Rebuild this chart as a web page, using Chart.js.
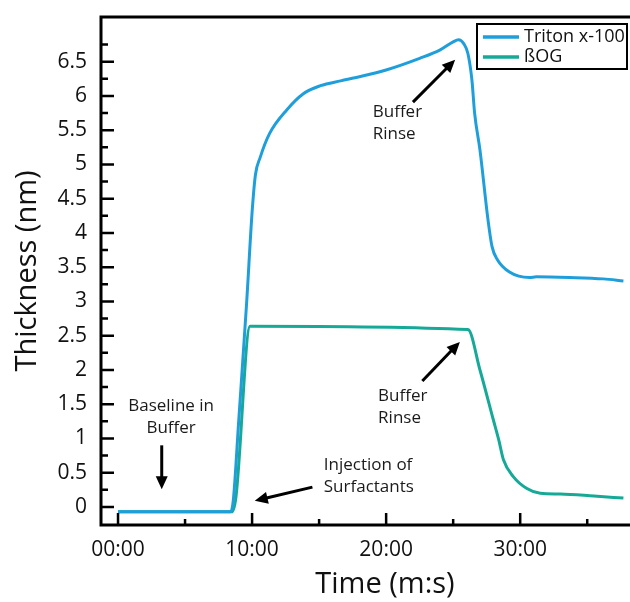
<!DOCTYPE html>
<html>
<head>
<meta charset="utf-8">
<script src="https://cdn.jsdelivr.net/npm/chart.js@4.4.1/dist/chart.umd.min.js"></script>
<style>
  html, body { margin: 0; padding: 0; overflow: hidden; background: #fff; }
  /* the original plot runs past the right edge of the picture, so the canvas is wider than the window */
  #wrap { width: 670px; height: 602px; }
</style>
</head>
<body>
<div id="wrap"><canvas id="c" width="670" height="602"></canvas></div>
<script>
const Chart = window.Chart;
const FONT = '"Open Sans", "Noto Sans", sans-serif';

/* ---------- data (time in minutes, thickness in nm) ---------- */
const tritonTime  = [0, 8.4, 8.6, 9.0, 9.6, 10.0, 10.25, 10.6, 11.3, 12.6, 13.8, 15.1, 16.6, 18.0, 20.0, 22.5,
                     24.0, 25.0, 25.4, 25.8, 26.1, 26.4, 26.6, 27.0, 27.6, 27.9, 28.3, 29.2, 30.7, 31.2, 33.7, 36.2, 37.7];
const tritonThick = [-0.07, -0.07, 0.1, 1.25, 3.0, 4.3, 4.85, 5.1, 5.45, 5.8, 6.03, 6.15, 6.22, 6.28, 6.38, 6.55,
                     6.67, 6.79, 6.82, 6.76, 6.62, 6.23, 5.75, 5.21, 4.19, 3.8, 3.61, 3.43, 3.35, 3.36, 3.35, 3.33, 3.3];

const bogTime  = [0, 8.5, 8.8, 9.85, 26.1, 27.0, 28.0, 28.4, 28.75, 29.5, 30.5, 31.5, 33.0, 35.5, 37.7];
const bogThick = [-0.07, -0.07, 0.15, 2.64, 2.59, 2.0, 1.27, 0.98, 0.69, 0.44, 0.27, 0.2, 0.19, 0.16, 0.13];

const seriesNames = ['Triton x-100', 'ßOG'];

const xTickValues = [0, 10, 20, 30];
const xTickLabels = ['00:00', '10:00', '20:00', '30:00'];
const yTickValues = [0, 0.5, 1, 1.5, 2, 2.5, 3, 3.5, 4, 4.5, 5, 5.5, 6, 6.5];
const yTickLabels = ['0', '0.5', '1', '1.5', '2', '2.5', '3', '3.5', '4', '4.5', '5', '5.5', '6', '6.5'];

/* annotations, anchored in data units */
const notes = [
  { text: ['Baseline in', 'Buffer'],      t: 3.96, v: 1.47, align: 'center', from: [3.26, 0.9],  to: [3.26, 0.26] },
  { text: ['Injection of', 'Surfactants'], t: 15.35, v: 0.61, align: 'left',  from: [14.5, 0.29], to: [10.2, 0.09] },
  { text: ['Buffer', 'Rinse'],             t: 19.0, v: 5.77, align: 'left',   from: [22.0, 5.91], to: [25.15, 6.53] },
  { text: ['Buffer', 'Rinse'],             t: 19.4, v: 1.62, align: 'left',   from: [22.7, 1.84], to: [25.5, 2.41] },
];

const pts = (ts, vs) => ts.map((t, i) => ({ x: t, y: vs[i] }));
const isOn = (v, list) => list.findIndex(a => Math.abs(a - v) < 1e-6);

/* ---------- frame: axes lines, top border, inward ticks ---------- */
const frame = {
  id: 'frame',
  afterDatasetsDraw(chart) {
    const { ctx, chartArea: a, scales: { x, y } } = chart;
    ctx.save();
    ctx.strokeStyle = '#000';
    ctx.lineWidth = 3;
    ctx.beginPath();
    ctx.moveTo(a.right, a.top); ctx.lineTo(a.left, a.top);
    ctx.lineTo(a.left, a.bottom); ctx.lineTo(a.right, a.bottom);
    ctx.stroke();

    ctx.lineWidth = 2.5;
    ctx.beginPath();
    x.ticks.forEach(tk => {
      const px = x.getPixelForValue(tk.value);
      const len = tk.value % 10 === 0 ? 12 : 6;
      ctx.moveTo(px, a.bottom); ctx.lineTo(px, a.bottom - len);
    });
    y.ticks.forEach(tk => {
      if (tk.value < 0 || tk.value > 6.8) return;
      const py = y.getPixelForValue(tk.value);
      const len = isOn(tk.value, yTickValues) >= 0 ? 13 : 7;
      ctx.moveTo(a.left, py); ctx.lineTo(a.left + len, py);
    });
    ctx.stroke();
    ctx.restore();
  }
};

/* ---------- notes with arrows ---------- */
function arrow(ctx, x1, y1, x2, y2) {
  const ang = Math.atan2(y2 - y1, x2 - x1), hl = 13, hw = 6;
  const bx = x2 - hl * Math.cos(ang), by = y2 - hl * Math.sin(ang);
  ctx.beginPath(); ctx.moveTo(x1, y1); ctx.lineTo(bx + 2 * Math.cos(ang), by + 2 * Math.sin(ang)); ctx.stroke();
  ctx.beginPath();
  ctx.moveTo(x2, y2);
  ctx.lineTo(bx + hw * Math.sin(ang), by - hw * Math.cos(ang));
  ctx.lineTo(bx - hw * Math.sin(ang), by + hw * Math.cos(ang));
  ctx.closePath(); ctx.fill();
}

const notesPlugin = {
  id: 'notes',
  afterDraw(chart) {
    const { ctx, scales: { x, y } } = chart;
    ctx.save();
    ctx.font = '17px ' + FONT;
    ctx.textBaseline = 'middle';
    notes.forEach(n => {
      ctx.fillStyle = '#1a1a1a';
      ctx.textAlign = n.align;
      const px = x.getPixelForValue(n.t), py = y.getPixelForValue(n.v);
      n.text.forEach((s, i) => ctx.fillText(s, px, py + i * 22));
      ctx.strokeStyle = '#000'; ctx.fillStyle = '#000'; ctx.lineWidth = 3;
      arrow(ctx, x.getPixelForValue(n.from[0]), y.getPixelForValue(n.from[1]),
                 x.getPixelForValue(n.to[0]),   y.getPixelForValue(n.to[1]));
    });
    ctx.restore();
  }
};

/* ---------- boxed legend, top right ---------- */
const legendBox = {
  id: 'legendBox',
  afterDraw(chart) {
    const ctx = chart.ctx;
    ctx.save();
    ctx.fillStyle = '#fff'; ctx.fillRect(477, 24, 150, 45);
    ctx.strokeStyle = '#000'; ctx.lineWidth = 2; ctx.strokeRect(477, 24, 150, 45);
    ctx.font = '18px ' + FONT; ctx.textBaseline = 'middle'; ctx.textAlign = 'left';
    chart.data.datasets.forEach((ds, i) => {
      const yy = 37 + i * 20;
      ctx.strokeStyle = ds.borderColor; ctx.lineWidth = 3.5;
      ctx.beginPath(); ctx.moveTo(483, yy); ctx.lineTo(519, yy); ctx.stroke();
      ctx.fillStyle = '#111'; ctx.fillText(ds.label, 524, yy);
    });
    ctx.restore();
  }
};

new Chart(document.getElementById('c'), {
  type: 'line',
  data: {
    datasets: [
      { label: seriesNames[0], data: pts(tritonTime, tritonThick), borderColor: '#1e9fdc', borderWidth: 3,
        pointRadius: 0, cubicInterpolationMode: 'monotone', fill: false },
      { label: seriesNames[1], data: pts(bogTime, bogThick), borderColor: '#16a998', borderWidth: 3,
        pointRadius: 0, cubicInterpolationMode: 'monotone', fill: false },
    ]
  },
  options: {
    responsive: false, animation: false,
    layout: { padding: { top: 17, right: 1, left: 0, bottom: 0 } },
    plugins: { legend: { display: false }, tooltip: { enabled: false } },
    scales: {
      x: {
        type: 'linear', min: -1.27, max: 41.1,
        // fixed axis band, no extra room for half-labels at the ends
        afterFit: s => { s.height = 77; s.paddingLeft = 0; s.paddingRight = 0; },
        grid: { display: false, drawTicks: false }, border: { display: false },
        ticks: {
          stepSize: 5, autoSkip: false, includeBounds: false, padding: 12, maxRotation: 0,
          color: '#111', font: { family: FONT, size: 21 },
          callback: v => { const i = isOn(v, xTickValues); return i >= 0 ? xTickLabels[i] : ''; }
        },
        title: { display: true, text: 'Time (m:s)', color: '#111', font: { family: FONT, size: 29 },
                 padding: { top: 0, bottom: 0 } }
      },
      y: {
        type: 'linear', min: -0.263, max: 7.153,
        afterFit: s => { s.width = 101; s.paddingTop = 0; s.paddingBottom = 0; },
        grid: { display: false, drawTicks: false }, border: { display: false },
        ticks: {
          stepSize: 0.25, autoSkip: false, includeBounds: false, padding: 14,
          color: '#111', font: { family: FONT, size: 21 },
          callback: v => { const i = isOn(v, yTickValues); return i >= 0 ? yTickLabels[i] : ''; }
        },
        title: { display: true, text: 'Thickness (nm)', color: '#111', font: { family: FONT, size: 29 },
                 padding: { top: 10, bottom: 0 } }
      }
    }
  },
  plugins: [frame, notesPlugin, legendBox]
});
</script>
</body>
</html>
